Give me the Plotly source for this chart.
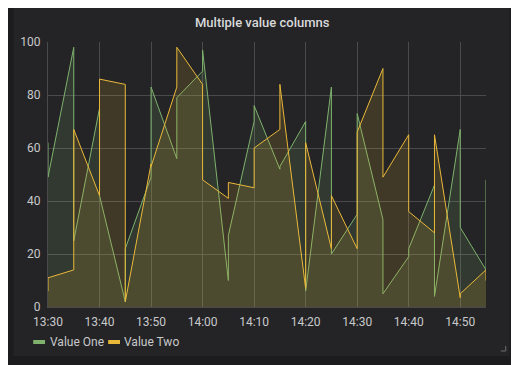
import plotly.graph_objects as go

# ---- data ----
times = ["13:30", "13:35", "13:40", "13:45", "13:50", "13:55", "14:00", "14:05", "14:10",
         "14:15", "14:20", "14:25", "14:30", "14:35", "14:40", "14:45", "14:50", "14:55"]
# each timestamp holds two rows: first value, then second value
value_one_first = [62, 98, 75, 2, 49, 56, 89, 10, 70, 52, 70, 83, 35, 33, 19, 46, 67, 14]
value_one_second = [49, 25, 42, 22, 83, 79, 97, 27, 76, 53, 6, 20, 73, 5, 22, 4, 30, 48]
value_two_first = [6, 14, 42, 84, 54, 83, 84, 41, 45, 67, 7, 22, 22, 90, 65, 28, 3.5, 14]
value_two_second = [11, 67, 86, 2, 53, 98, 48, 47, 60, 84, 62, 42, 66, 49, 36, 65, 5, 10]
series_names = ["Value One", "Value Two"]
y_ticks = [0, 20, 40, 60, 80, 100]

DAY = "2020-06-01 "


def rows(first, second):
    xs, ys = [], []
    for t, a, b in zip(times, first, second):
        xs += [DAY + t, DAY + t]
        ys += [a, b]
    return xs, ys


GREEN = "#7EB26D"
YELLOW = "#EAB839"
PAGE = "#1c1c1e"
PANEL = "#242426"
GRID = "#4a4a4d"
TEXT = "#c8c9cb"

fig = go.Figure()
for (first, second), name, color, fill in [
    ((value_one_first, value_one_second), series_names[0], GREEN, "rgba(126,178,109,0.15)"),
    ((value_two_first, value_two_second), series_names[1], YELLOW, "rgba(234,184,57,0.15)"),
]:
    xs, ys = rows(first, second)
    fig.add_trace(go.Scatter(x=xs, y=ys, name=name, mode="lines",
                             line=dict(color=color, width=1), fill="tozeroy",
                             fillcolor=fill, showlegend=False))

# the page places the figure 8px in from the window's top-left corner
OFF = 8
W, H = 519, 365
# plot area in window pixels
L, R, T, B = 42, 486, 42, 307


def px(x):
    return (x - L) / (R - L)


def py(y):
    return (B - y) / (B - T)


shapes = [
    dict(type="rect", xref="paper", yref="paper", x0=px(7), x1=px(510), y0=py(356), y1=py(8),
         fillcolor=PANEL, line=dict(width=0), layer="below"),
    # resize handle
    dict(type="path", xref="paper", yref="paper",
         path=f"M{px(501)},{py(351)} L{px(506)},{py(351)} L{px(506)},{py(346)}",
         line=dict(color="#6e6e72", width=1)),
    # legend swatches
    dict(type="line", xref="paper", yref="paper", x0=px(27), x1=px(39), y0=py(342), y1=py(342),
         line=dict(color=GREEN, width=4)),
    dict(type="line", xref="paper", yref="paper", x0=px(103), x1=px(115), y0=py(342), y1=py(342),
         line=dict(color=YELLOW, width=4)),
]

annotations = [
    dict(text="Multiple value columns", xref="paper", yref="paper", x=px(259), y=py(22),
         xanchor="center", yanchor="middle", showarrow=False,
         font=dict(family="Roboto", size=13, color="#d8d9da", weight=500)),
    dict(text=series_names[0], xref="paper", yref="paper", x=px(42), y=py(342),
         xanchor="left", yanchor="middle", showarrow=False,
         font=dict(family="Roboto", size=12, color=TEXT)),
    dict(text=series_names[1], xref="paper", yref="paper", x=px(117), y=py(342),
         xanchor="left", yanchor="middle", showarrow=False,
         font=dict(family="Roboto", size=12, color=TEXT)),
]

fig.update_layout(
    width=W, height=H,
    margin=dict(l=L - OFF, r=W - (R - OFF), t=T - OFF, b=H - (B - OFF), pad=0),
    paper_bgcolor=PAGE, plot_bgcolor=PANEL,
    font=dict(family="Roboto", size=12, color=TEXT),
    shapes=shapes, annotations=annotations,
    showlegend=False,
)
fig.update_xaxes(type="date", range=[DAY + "13:30", DAY + "14:55"],
                 dtick=600000, tick0=DAY + "13:30", tickformat="%H:%M",
                 showgrid=True, gridcolor=GRID, gridwidth=1,
                 showline=True, linecolor=GRID, linewidth=1, zeroline=False,
                 ticks="", ticklabelstandoff=4)
fig.update_yaxes(range=[0, 100], tickvals=y_ticks, showgrid=True, gridcolor=GRID, gridwidth=1,
                 showline=True, linecolor=GRID, linewidth=1, zeroline=False,
                 ticks="", ticklabelstandoff=4)

fig.write_html("out.html")
